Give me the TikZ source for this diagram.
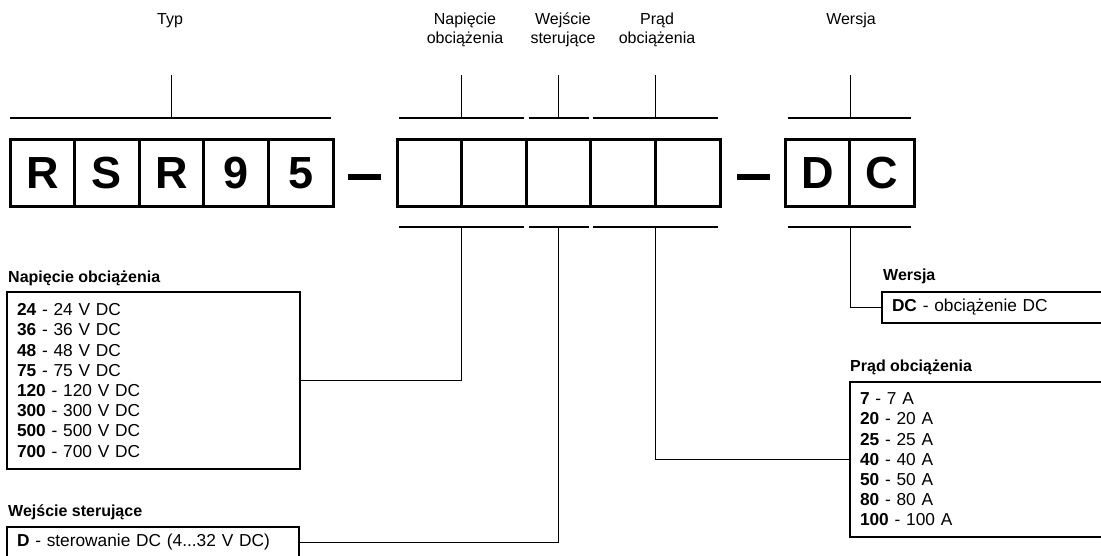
\documentclass[tikz,border=0pt]{standalone}
\usepackage{fontspec}
\setmainfont{Liberation Sans}
\usetikzlibrary{positioning}

\tikzset{
    cell/.style = {draw, line width=3pt, minimum width=64.6pt, minimum height=67pt,
        inner sep=0pt, outer sep=0pt, font=\fontsize{45}{50}\selectfont\bfseries},
    dashbar/.style = {fill, minimum width=33pt, minimum height=6pt, inner sep=0pt},
    toplabel/.style = {align=center, inner sep=0pt, font=\fontsize{16}{19}\selectfont},
    bracket/.style = {line width=2pt},
    stub/.style = {line width=1.3pt},
    lead/.style = {line width=1.2pt},
    listbox/.style = {draw, line width=1.2pt, anchor=north west, align=left,
        inner xsep=10pt, inner ysep=0pt, outer sep=0pt,
        font=\fontsize{17.3}{20.2}\selectfont},
    listtitle/.style = {anchor=base west, inner sep=0pt,
        font=\fontsize{16}{19}\selectfont\bfseries},
}

\begin{document}
\begin{tikzpicture}[x=1pt, y=-1pt]
    \useasboundingbox (0,0) rectangle (1101,556);
    \clip (0,0) rectangle (1101,556);

    % typ
    \node[cell] (t1) at (42.3,173.5) {R};
    \node[cell, right=0pt of t1] (t2) {S};
    \node[cell, right=0pt of t2] (t3) {R};
    \node[cell, right=0pt of t3] (t4) {9};
    \node[cell, right=0pt of t4] (t5) {5};

    \node[dashbar] (dash1) at (364.5,177) {};

    % napiecie, wejscie, prad
    \node[cell] (u1) at (429.3,173.5) {};
    \node[cell, right=0pt of u1] (u2) {};
    \node[cell, right=0pt of u2] (w1) {};
    \node[cell, right=0pt of w1] (p1) {};
    \node[cell, right=0pt of p1] (p2) {};

    \node[dashbar] (dash2) at (753.5,177) {};

    % wersja
    \node[cell] (v1) at (817.3,173.5) {D};
    \node[cell, right=0pt of v1] (v2) {C};

    % top labels
    \node[toplabel, anchor=base] (typL) at (170,25) {Typ};
    \node[toplabel] (napL) at (465,30) {Napięcie\\obciążenia};
    \node[toplabel] (sterL) at (563,30) {Wejście\\sterujące};
    \node[toplabel] (pradL) at (657,30) {Prąd\\obciążenia};
    \node[toplabel, anchor=base] (werL) at (851,25) {Wersja};

    % brackets above
    \draw[bracket] ([yshift=22pt]t1.north west) -- ([yshift=22pt,xshift=-2pt]t5.north east);
    \draw[bracket] ([yshift=22pt,xshift=2pt]u1.north west) -- ([yshift=22pt,xshift=-2pt]u2.north east);
    \draw[bracket] ([yshift=22pt,xshift=3pt]w1.north west) -- ([yshift=22pt,xshift=-2pt]w1.north east);
    \draw[bracket] ([yshift=22pt,xshift=2pt]p1.north west) -- ([yshift=22pt,xshift=-2pt]p2.north east);
    \draw[bracket] ([yshift=22pt,xshift=3pt]v1.north west) -- ([yshift=22pt,xshift=-3pt]v2.north east);

    \draw[stub] ([yshift=22pt]t3.north) -- ++(0,-43);
    \draw[stub] ([yshift=22pt]u1.north east) -- ++(0,-43);
    \draw[stub] ([yshift=22pt]w1.north) -- ++(0,-43);
    \draw[stub] ([yshift=22pt]p1.north east) -- ++(0,-43);
    \draw[stub] ([yshift=22pt,xshift=1pt]v1.north east) -- ++(0,-43);

    % brackets below
    \draw[bracket] ([yshift=-20pt,xshift=2pt]u1.south west) -- ([yshift=-20pt,xshift=-2pt]u2.south east);
    \draw[bracket] ([yshift=-20pt,xshift=3pt]w1.south west) -- ([yshift=-20pt,xshift=-2pt]w1.south east);
    \draw[bracket] ([yshift=-20pt,xshift=2pt]p1.south west) -- ([yshift=-20pt,xshift=-2pt]p2.south east);
    \draw[bracket] ([yshift=-20pt,xshift=3pt]v1.south west) -- ([yshift=-20pt,xshift=-3pt]v2.south east);

    % option lists
    \node[listtitle] (napT) at (8,283) {Napięcie obciążenia};
    \node[listbox, text width=273pt, minimum height=177pt] (nap) at (7,292)
        {\textbf{24} - 24 V DC\\
         \textbf{36} - 36 V DC\\
         \textbf{48} - 48 V DC\\
         \textbf{75} - 75 V DC\\
         \textbf{120} - 120 V DC\\
         \textbf{300} - 300 V DC\\
         \textbf{500} - 500 V DC\\
         \textbf{700} - 700 V DC};

    \node[listtitle] (sterT) at (8,516) {Wejście sterujące};
    \node[listbox, text width=272pt, minimum height=31pt] (ster) at (7,527)
        {\textbf{D} - sterowanie DC (4...32 V DC)};

    \node[listtitle] (werT) at (883,281) {Wersja};
    \node[listbox, text width=220pt, minimum height=31pt] (wer) at (882,292)
        {\textbf{DC} - obciążenie DC};

    \node[listtitle] (pradT) at (850,371) {Prąd obciążenia};
    \node[listbox, text width=240pt, minimum height=155pt] (prad) at (850,382)
        {\textbf{7} - 7 A\\
         \textbf{20} - 20 A\\
         \textbf{25} - 25 A\\
         \textbf{40} - 40 A\\
         \textbf{50} - 50 A\\
         \textbf{80} - 80 A\\
         \textbf{100} - 100 A};

    % leads
    \draw[lead] ([yshift=-20pt]u1.south east) |- (nap.east);
    \draw[lead] ([yshift=-20pt]w1.south) |- (ster.east);
    \draw[lead] ([yshift=-20pt]p1.south east) |- (prad.west);
    \draw[lead] ([yshift=-20pt,xshift=1pt]v1.south east) |- (wer.west);

\end{tikzpicture}
\end{document}
